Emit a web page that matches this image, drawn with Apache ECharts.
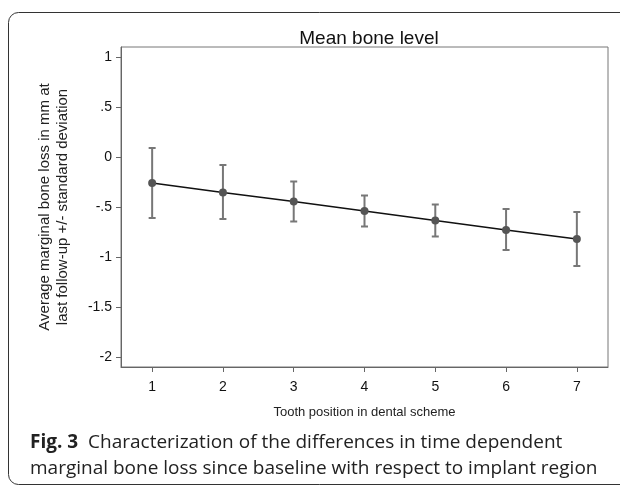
<!DOCTYPE html>
<html>
<head>
<meta charset="utf-8">
<script src="https://cdn.jsdelivr.net/npm/echarts@6/dist/echarts.min.js"></script>
<style>html,body{margin:0;padding:0;background:#fff;}#c{width:620px;height:487px;}</style>
</head>
<body>
<div id="c"></div>
<script>
var positions = [1, 2, 3, 4, 5, 6, 7];
var meanLoss = [-0.26, -0.355, -0.445, -0.54, -0.635, -0.73, -0.82];
var upperSD = [0.09, -0.08, -0.245, -0.385, -0.475, -0.52, -0.55];
var lowerSD = [-0.61, -0.62, -0.645, -0.695, -0.795, -0.93, -1.09];
var xTicks = [1, 2, 3, 4, 5, 6, 7];
var yTicks = [1, 0.5, 0, -0.5, -1, -1.5, -2];
var yTickLabels = ['1', '.5', '0', '-.5', '-1', '-1.5', '-2'];

var chart = echarts.init(document.getElementById('c'));
var AX = '#666';
var font = 'Liberation Sans, Arial, sans-serif';
var lineData = positions.map(function (p, i) { return [p, meanLoss[i]]; });
var errData = positions.map(function (p, i) { return [p, upperSD[i], lowerSD[i]]; });

chart.setOption({
  animation: false,
  graphic: [{
    type: 'rect', z: -1,
    shape: { x: 8.5, y: 12.5, width: 700, height: 472, r: 10 },
    style: { fill: 'none', stroke: '#333', lineWidth: 1 }
  }],
  title: [{
    text: 'Mean bone level',
    left: 364, top: 24, textAlign: 'center',
    textStyle: { fontFamily: font, fontSize: 19, fontWeight: 'normal', color: '#111' }
  }, {
    text: '{b|Fig. 3}  Characterization of the differences in time dependent\nmarginal bone loss since baseline with respect to implant region',
    left: 25, top: 425,
    textStyle: {
      fontFamily: 'Open Sans', fontSize: 19, fontWeight: 'normal', color: '#222', lineHeight: 26,
      rich: { b: { fontFamily: 'Open Sans', fontSize: 19, fontWeight: 'bold', color: '#222', lineHeight: 26 } }
    }
  }],
  grid: { left: 121, right: 12, top: 47, bottom: 120, show: true, borderColor: '#777', borderWidth: 1 },
  xAxis: {
    type: 'value', min: 0.56, max: 7.44,
    name: 'Tooth position in dental scheme', nameLocation: 'middle', nameGap: 39,
    nameTextStyle: { fontFamily: font, fontSize: 13, color: '#222' },
    axisLine: { show: true, onZero: false, lineStyle: { color: AX, width: 1 } },
    axisTick: { show: true, length: 5, customValues: xTicks, lineStyle: { color: AX } },
    axisLabel: { customValues: xTicks, fontFamily: font, fontSize: 14, color: '#111', margin: 13 },
    splitLine: { show: false }
  },
  yAxis: {
    type: 'value', min: -2.1, max: 1.1,
    name: 'Average marginal bone loss in mm at\nlast follow-up +/- standard deviation',
    nameLocation: 'middle', nameGap: 49, nameRotate: 90,
    nameTextStyle: { fontFamily: font, fontSize: 15, color: '#222', lineHeight: 18 },
    axisLine: { show: true, onZero: false, lineStyle: { color: AX, width: 1 } },
    axisTick: { show: true, length: 5, customValues: yTicks, lineStyle: { color: AX } },
    axisLabel: {
      customValues: yTicks, fontFamily: font, fontSize: 14, color: '#111', margin: 9,
      formatter: function (v) {
        for (var i = 0; i < yTicks.length; i++) { if (Math.abs(yTicks[i] - v) < 1e-9) return yTickLabels[i]; }
        return '';
      }
    },
    splitLine: { show: false }
  },
  series: [{
    type: 'custom',
    data: errData,
    z: 2,
    renderItem: function (params, api) {
      var x = api.value(0);
      var top = api.coord([x, api.value(1)]);
      var bot = api.coord([x, api.value(2)]);
      var hw = 3.5;
      var st = { stroke: '#777', lineWidth: 2, fill: 'none' };
      return { type: 'group', children: [
        { type: 'line', shape: { x1: top[0], y1: top[1], x2: bot[0], y2: bot[1] }, style: st },
        { type: 'line', shape: { x1: top[0] - hw, y1: top[1], x2: top[0] + hw, y2: top[1] }, style: st },
        { type: 'line', shape: { x1: bot[0] - hw, y1: bot[1], x2: bot[0] + hw, y2: bot[1] }, style: st }
      ]};
    }
  }, {
    type: 'line',
    data: lineData,
    z: 3,
    symbol: 'circle', symbolSize: 8,
    lineStyle: { color: '#111', width: 1.6 },
    itemStyle: { color: '#555' }
  }]
});
</script>
</body>
</html>
